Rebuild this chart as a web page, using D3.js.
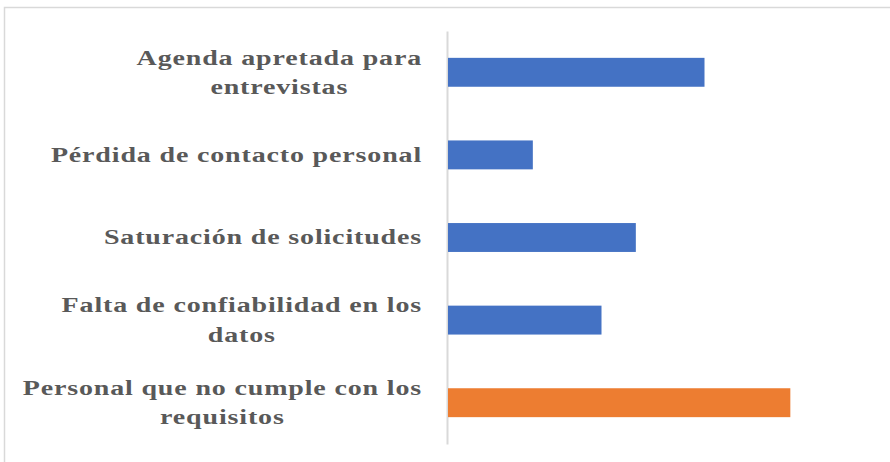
<!DOCTYPE html>
<html>
<head>
<meta charset="utf-8">
<script src="https://cdn.jsdelivr.net/npm/d3@7"></script>
<style>
  body { margin: 0; background: #fff; }
  .label { font-family: "Liberation Serif", "Times New Roman", serif; font-weight: bold; font-size: 20px; fill: #595959; letter-spacing: 0.6px; }
</style>
</head>
<body>
<svg width="890" height="462"></svg>
<script>
// datos (de arriba hacia abajo)
const categories = [
    "Agenda apretada para entrevistas",
    "Pérdida de contacto personal",
    "Saturación de solicitudes",
    "Falta de confiabilidad en los datos",
    "Personal que no cumple con los requisitos"
];
const values = [15, 5, 11, 9, 20];
const colors = ["#4472C4", "#4472C4", "#4472C4", "#4472C4", "#ED7D31"];

const data = categories.map((c, i) => ({ name: c, value: values[i], color: colors[i] }));

const svg = d3.select("svg"),
    margin = { top: 31, right: 31, bottom: 18, left: 447 },
    width = +svg.attr("width") - margin.left - margin.right,
    height = +svg.attr("height") - margin.top - margin.bottom;

// marco del gráfico
svg.append("rect")
    .attr("x", 4.5).attr("y", 7.5)
    .attr("width", 900).attr("height", 500)
    .attr("fill", "none")
    .attr("stroke", "#d9d9d9")
    .attr("stroke-width", 1.5);

const g = svg.append("g").attr("transform", `translate(${margin.left},${margin.top})`);

const x = d3.scaleLinear()
    .domain([0, 24])
    .range([0, width]);

const y = d3.scaleBand()
    .domain(categories)
    .range([0, height])
    .paddingInner(0.65)
    .paddingOuter(0.325);

// eje vertical (sin marcas)
g.append("g")
    .call(d3.axisLeft(y).tickSize(0).tickFormat(""))
    .call(s => s.select(".domain").attr("stroke", "#d9d9d9").attr("stroke-width", 2));

// barras
g.selectAll(".bar")
    .data(data)
    .enter().append("rect")
    .attr("class", "bar")
    .attr("x", 1)
    .attr("y", d => y(d.name))
    .attr("width", d => x(d.value) - 1)
    .attr("height", y.bandwidth())
    .attr("fill", d => d.color);

// etiquetas con salto de línea, centradas (texto estirado en horizontal como en el original)
const stretch = 1.4, maxW = 290, lineH = 29.5, rightEdge = -25;
const labels = g.selectAll(".label")
    .data(data)
    .enter().append("text")
    .attr("class", "label")
    .attr("text-anchor", "middle")
    .attr("transform", `translate(${rightEdge},0) scale(${stretch},1)`);

labels.each(function (d) {
    const t = d3.select(this);
    const words = d.name.split(" ");
    const lines = [];
    let cur = [];
    const probe = t.append("tspan");
    words.forEach(w => {
        const test = cur.concat(w).join(" ");
        probe.text(test);
        if (probe.node().getComputedTextLength() > maxW && cur.length) {
            lines.push(cur.join(" "));
            cur = [w];
        } else {
            cur.push(w);
        }
    });
    lines.push(cur.join(" "));
    probe.remove();

    // ancho del bloque = línea más larga
    let blockW = 0;
    const spans = lines.map(l => {
        const s = t.append("tspan").text(l);
        blockW = Math.max(blockW, s.node().getComputedTextLength());
        return s;
    });
    const cx = -blockW / 2;
    const cy = y(d.name) + y.bandwidth() / 2;
    const y0 = cy - (lines.length - 1) * lineH / 2 + 7;
    spans.forEach((s, i) => s.attr("x", cx).attr("y", y0 + i * lineH));
});
</script>
</body>
</html>
